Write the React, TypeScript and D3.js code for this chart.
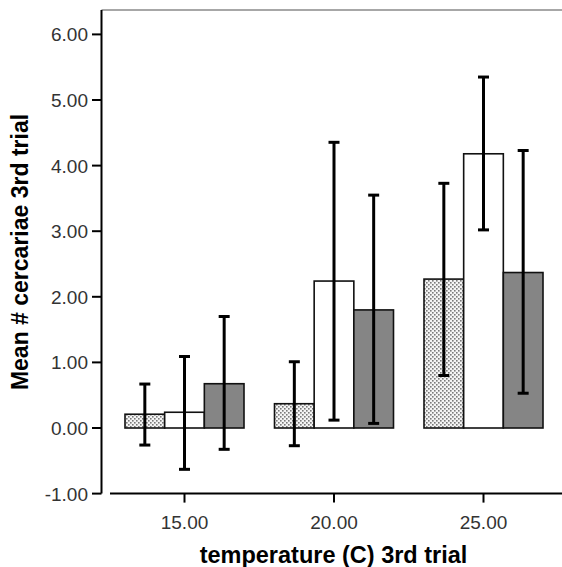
import { useEffect, useRef } from 'react';
import * as d3 from 'd3';

// temperature groups on the x axis
const categories = ['15.00', '20.00', '25.00'];
// three treatment series (dotted, white, gray)
const seriesNames = ['dotted', 'white', 'gray'];
const meanDotted = [0.21, 0.37, 2.27];
const meanWhite = [0.24, 2.24, 4.18];
const meanGray = [0.675, 1.8, 2.37];
const lowDotted = [-0.26, -0.27, 0.8];
const lowWhite = [-0.63, 0.12, 3.02];
const lowGray = [-0.325, 0.07, 0.53];
const highDotted = [0.67, 1.01, 3.73];
const highWhite = [1.09, 4.355, 5.35];
const highGray = [1.7, 3.55, 4.23];
const yTicks = [-1, 0, 1, 2, 3, 4, 5, 6];

const App = () => {
  const svgRef = useRef(null);

  useEffect(() => {
    const width = 562;
    const height = 567;
    const means = [meanDotted, meanWhite, meanGray];
    const lows = [lowDotted, lowWhite, lowGray];
    const highs = [highDotted, highWhite, highGray];

    const rows = [];
    categories.forEach((cat, ci) => {
      seriesNames.forEach((s, si) => {
        rows.push({ cat, series: s, mean: means[si][ci], low: lows[si][ci], high: highs[si][ci] });
      });
    });

    const svg = d3.select(svgRef.current);
    svg.selectAll('*').remove();
    svg.attr('width', width).attr('height', height);

    // dotted fill
    const defs = svg.append('defs');
    const pat = defs.append('pattern')
      .attr('id', 'stipple')
      .attr('patternUnits', 'userSpaceOnUse')
      .attr('width', 4)
      .attr('height', 4);
    pat.append('rect').attr('width', 4).attr('height', 4).attr('fill', '#f4f4f4');
    pat.append('rect').attr('x', 0).attr('y', 0).attr('width', 1.6).attr('height', 1.6).attr('fill', '#7a7a7a');
    pat.append('rect').attr('x', 2).attr('y', 2).attr('width', 1.6).attr('height', 1.6).attr('fill', '#7a7a7a');

    const fills = { dotted: 'url(#stipple)', white: '#ffffff', gray: '#858585' };

    const x = d3.scalePoint().domain(categories).range([184.5, 483.5]);
    const inner = d3.scaleBand().domain(seriesNames).range([-59.5, 59.5]);
    const y = d3.scaleLinear().domain([-1, 6]).range([493.6, 34.4]);
    // SPSS style labels use a plain hyphen for negatives
    const fmt = (v) => d3.format('.2f')(v).replace('\u2212', '-');

    const axisLeftX = 101.5;
    const axisTop = 10;

    // top frame line
    svg.append('line')
      .attr('x1', axisLeftX).attr('x2', width)
      .attr('y1', axisTop).attr('y2', axisTop)
      .attr('stroke', '#8a8a8a').attr('stroke-width', 1.5);

    // bars
    svg.append('g')
      .selectAll('rect')
      .data(rows)
      .join('rect')
      .attr('x', d => x(d.cat) + inner(d.series))
      .attr('width', inner.bandwidth())
      .attr('y', d => y(Math.max(0, d.mean)))
      .attr('height', d => Math.abs(y(d.mean) - y(0)))
      .attr('fill', d => fills[d.series])
      .attr('stroke', '#111')
      .attr('stroke-width', 1.6);

    // error bars
    const capHalf = 5.5;
    const err = svg.append('g').attr('stroke', '#000').attr('stroke-width', 3);
    rows.forEach(d => {
      const cx = x(d.cat) + inner(d.series) + inner.bandwidth() / 2;
      err.append('line').attr('x1', cx).attr('x2', cx).attr('y1', y(d.low)).attr('y2', y(d.high));
      err.append('line').attr('x1', cx - capHalf).attr('x2', cx + capHalf).attr('y1', y(d.low)).attr('y2', y(d.low));
      err.append('line').attr('x1', cx - capHalf).attr('x2', cx + capHalf).attr('y1', y(d.high)).attr('y2', y(d.high));
    });

    // y axis
    svg.append('line')
      .attr('x1', axisLeftX).attr('x2', axisLeftX)
      .attr('y1', axisTop).attr('y2', y(-1))
      .attr('stroke', '#000').attr('stroke-width', 2);
    const yg = svg.append('g');
    yTicks.forEach(t => {
      yg.append('line')
        .attr('x1', 92).attr('x2', axisLeftX)
        .attr('y1', y(t)).attr('y2', y(t))
        .attr('stroke', '#000').attr('stroke-width', 2);
      yg.append('text')
        .attr('x', 88)
        .attr('y', y(t))
        .attr('dy', '0.37em')
        .attr('text-anchor', 'end')
        .attr('font-family', 'Liberation Sans, Arial, sans-serif')
        .attr('font-size', 19)
        .attr('fill', '#333')
        .text(fmt(t));
    });

    // x axis
    svg.append('line')
      .attr('x1', 110).attr('x2', width)
      .attr('y1', y(-1)).attr('y2', y(-1))
      .attr('stroke', '#000').attr('stroke-width', 2);
    const xg = svg.append('g');
    categories.forEach(c => {
      xg.append('line')
        .attr('x1', x(c)).attr('x2', x(c))
        .attr('y1', y(-1)).attr('y2', y(-1) + 9)
        .attr('stroke', '#000').attr('stroke-width', 2);
      xg.append('text')
        .attr('x', x(c))
        .attr('y', 529)
        .attr('text-anchor', 'middle')
        .attr('font-family', 'Liberation Sans, Arial, sans-serif')
        .attr('font-size', 19)
        .attr('fill', '#333')
        .text(c);
    });

    // axis titles
    svg.append('text')
      .attr('x', 333.5)
      .attr('y', 563)
      .attr('text-anchor', 'middle')
      .attr('font-family', 'Liberation Sans, Arial, sans-serif')
      .attr('font-weight', 'bold')
      .attr('font-size', 23.5)
      .attr('fill', '#000')
      .text('temperature (C) 3rd trial');

    svg.append('text')
      .attr('transform', 'translate(28, 252) rotate(-90)')
      .attr('text-anchor', 'middle')
      .attr('font-family', 'Liberation Sans, Arial, sans-serif')
      .attr('font-weight', 'bold')
      .attr('font-size', 23)
      .attr('fill', '#000')
      .text('Mean # cercariae 3rd trial');
  }, []);

  return (
    <svg ref={svgRef} style={{ position: 'absolute', left: 0, top: 0, background: '#fff' }} />
  );
};

export default App;
